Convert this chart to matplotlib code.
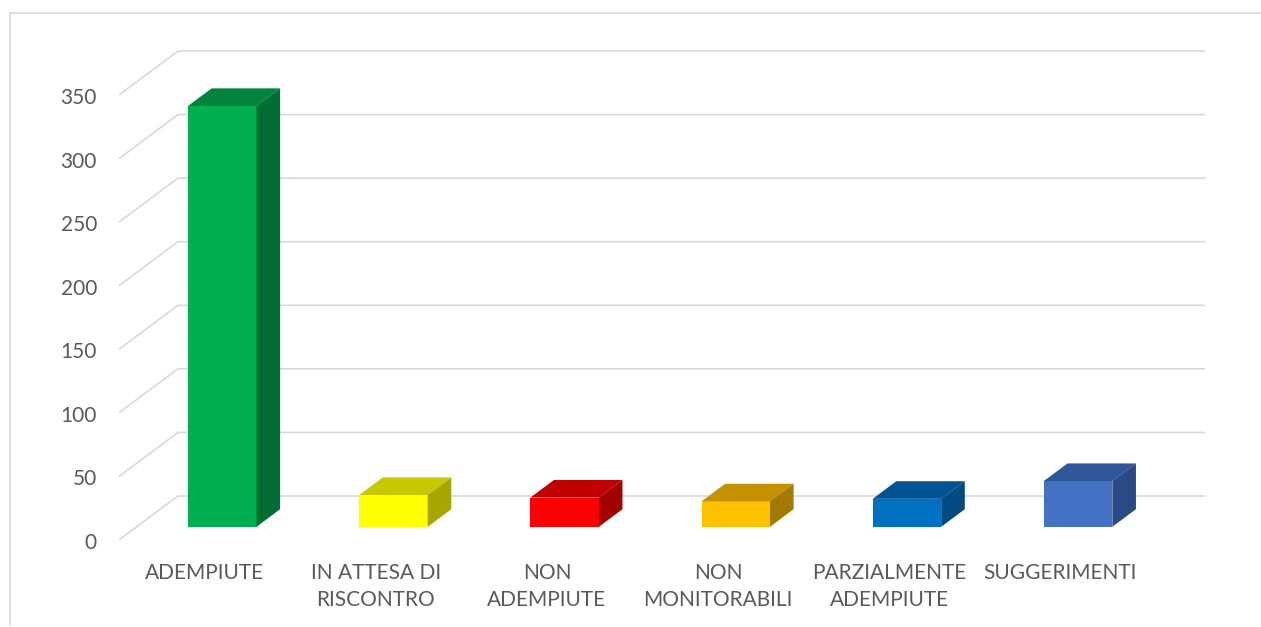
import matplotlib
matplotlib.use("Agg")
import matplotlib.pyplot as plt
from matplotlib.patches import Polygon
from matplotlib.lines import Line2D

categories = ["ADEMPIUTE", "IN ATTESA DI\nRISCONTRO", "NON\nADEMPIUTE",
              "NON\nMONITORABILI", "PARZIALMENTE\nADEMPIUTE", "SUGGERIMENTI"]
values = [331, 25, 23, 20, 22, 36]
yticks = [0, 50, 100, 150, 200, 250, 300, 350]

front_colors = ["#00B050", "#FFFF00", "#FF0000", "#FFC000", "#0070C0", "#4472C4"]
top_colors = ["#00843C", "#C8C800", "#C00000", "#C49200", "#005494", "#31569A"]
side_colors = ["#006E32", "#A6A600", "#A30000", "#A37A00", "#004A80", "#2A4A85"]

W, H = 1261, 627
fig = plt.figure(figsize=(W / 100, H / 100), dpi=100)
ax = fig.add_axes([0, 0, 1, 1])
ax.axis("off")

# pixel geometry of the front plane
px_left, px_right = 119, 1146
px_zero, px_top = 540, 95
sx = (px_right - px_left) / len(categories)          # px per category
sy = (px_zero - px_top) / yticks[-1]                 # px per unit
ax.set_xlim(-0.5 - px_left / sx, len(categories) - 0.5 + (W - px_right) / sx)
ax.set_ylim(-(H - px_zero) / sy, yticks[-1] + px_top / sy)

# oblique depth of the wall
dx = 59 / sx
dy = 44 / sy
x0, x1 = -0.5, len(categories) - 0.5

grid_col = "#D9D9D9"
text_col = "#595959"
font = "Lato"

for t in yticks:
    ax.plot([x0, x0 + dx, x1 + dx], [t, t + dy, t + dy], color=grid_col, lw=1.2, zorder=1,
            solid_capstyle="butt")
    ax.text(x0 - 22 / sx, t - 3 / sy, str(t), ha="right", va="center", fontsize=15,
            color=text_col, family=font)

# bars with front, top and side faces
f0, f1 = 0.3, 0.7
bw = 0.4
for i, v in enumerate(values):
    fx = i - bw / 2 + f0 * dx
    fy = f0 * dy
    ax.bar(fx, v, width=bw, bottom=fy, align="edge", color=front_colors[i], zorder=3,
           linewidth=0)
    ddx = (f1 - f0) * dx
    ddy = (f1 - f0) * dy
    top = Polygon([(fx, fy + v), (fx + ddx, fy + v + ddy), (fx + bw + ddx, fy + v + ddy),
                   (fx + bw, fy + v)], closed=True, facecolor=top_colors[i], lw=0, zorder=3)
    side = Polygon([(fx + bw, fy), (fx + bw + ddx, fy + ddy), (fx + bw + ddx, fy + v + ddy),
                    (fx + bw, fy + v)], closed=True, facecolor=side_colors[i], lw=0, zorder=3)
    ax.add_patch(top)
    ax.add_patch(side)

for i, c in enumerate(categories):
    ax.text(i, -(563 - px_zero) / sy, c, ha="center", va="top", fontsize=15,
            color=text_col, family=font, linespacing=1.45)

# chart border
fig.add_artist(Line2D([10 / W, 1], [1 - 13 / H, 1 - 13 / H], color=grid_col, lw=1.2,
                      transform=fig.transFigure))
fig.add_artist(Line2D([10 / W, 10 / W], [1 - 13 / H, 0.003], color=grid_col, lw=1.2,
                      transform=fig.transFigure))

fig.savefig("out.png", dpi=100, facecolor="white")
